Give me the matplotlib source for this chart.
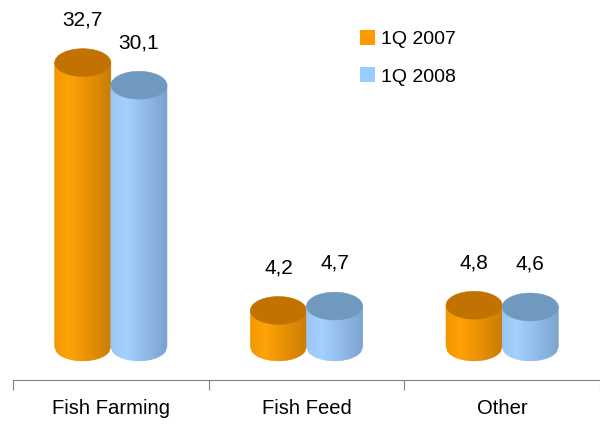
import numpy as np
import matplotlib
matplotlib.use("Agg")
import matplotlib.pyplot as plt
from matplotlib.patches import Polygon, Ellipse, Patch

plt.rcParams['font.family'] = ['Liberation Sans', 'DejaVu Sans']

# %% data
categories = ["Fish Farming", "Fish Feed", "Other"]
series_names = ["1Q 2007", "1Q 2008"]
values_2007 = [32.7, 4.2, 4.8]
values_2008 = [30.1, 4.7, 4.6]
value_labels_2007 = ["32,7", "4,2", "4,8"]
value_labels_2008 = ["30,1", "4,7", "4,6"]

# colours: legend / side bright, side dark, top
colors = {
    "1Q 2007": ("#FF9900", "#FFA000", "#C97A00", "#C27200"),
    "1Q 2008": ("#99CCFF", "#A2D0FF", "#7AA2CF", "#7099C0"),
}

# %% figure
fig = plt.figure(figsize=(6, 4.25), dpi=100)
ax = fig.add_axes([13 / 600, 45 / 425, 587 / 600, 380 / 425])
ax.set_xlim(0, 3)
ax.set_ylim(-3.8, 39.9)

bar_w = 0.287
ell_h = 1.6   # half-height of ellipse in data units
n_strips = 28


def mix(c1, c2, t):
    a = np.array(matplotlib.colors.to_rgb(c1))
    b = np.array(matplotlib.colors.to_rgb(c2))
    return tuple(a * (1 - t) + b * t)


def cylinder(xc, v, bright, dark, top):
    us = np.linspace(-1, 1, n_strips + 1)
    for u0, u1 in zip(us[:-1], us[1:]):
        um = (u0 + u1) / 2
        # brightest a bit left of centre
        if um < -0.45:
            t = 0.25 * (-0.45 - um) / 0.55
        else:
            t = (um + 0.45) / 1.45
        c = mix(bright, dark, t)
        x0 = xc + u0 * bar_w / 2
        x1 = xc + u1 * bar_w / 2
        yb0 = -ell_h * np.sqrt(max(0, 1 - u0 ** 2))
        yb1 = -ell_h * np.sqrt(max(0, 1 - u1 ** 2))
        ax.add_patch(Polygon([(x0, yb0), (x1, yb1), (x1, v), (x0, v)],
                             closed=True, facecolor=c, edgecolor=c, lw=0.4))
    ax.add_patch(Ellipse((xc, v), bar_w, 2 * ell_h, facecolor=top,
                         edgecolor=top, lw=0.4))


for i, cat in enumerate(categories):
    center = i + 0.5
    for j, (name, vals, labs) in enumerate(
            [(series_names[0], values_2007, value_labels_2007),
             (series_names[1], values_2008, value_labels_2008)]):
        xc = center + (j - 0.5) * bar_w
        _, bright, dark, top = colors[name]
        cylinder(xc, vals[i], bright, dark, top)
        ax.text(xc, vals[i] + 4.9, labs[i], ha='center', va='center',
                fontsize=15, color='black')

# %% axes styling
for s in ["left", "right", "top"]:
    ax.spines[s].set_visible(False)
ax.spines["bottom"].set_color("#808080")
ax.spines["bottom"].set_position(("data", -3.8))
ax.set_yticks([])
ax.set_xticks([0, 1, 2, 3])
ax.set_xticklabels([])
ax.tick_params(axis='x', which='major', length=7, color='#808080', direction='out')
ax.set_xticks([0.5, 1.5, 2.5], minor=True)
ax.set_xticklabels(categories, minor=True, fontsize=14.6)
ax.tick_params(axis='x', which='minor', length=0, pad=14)

handles = [Patch(facecolor=colors[n][0], edgecolor='none') for n in series_names]
ax.legend(handles, series_names, loc='upper left',
          bbox_to_anchor=(352 / 600, 1 - 22 / 425), bbox_transform=fig.transFigure,
          frameon=False, handlelength=0.8, handleheight=0.8, handletextpad=0.3,
          labelspacing=1.0, fontsize=14, borderaxespad=0)

fig.savefig("out.png", dpi=100)
